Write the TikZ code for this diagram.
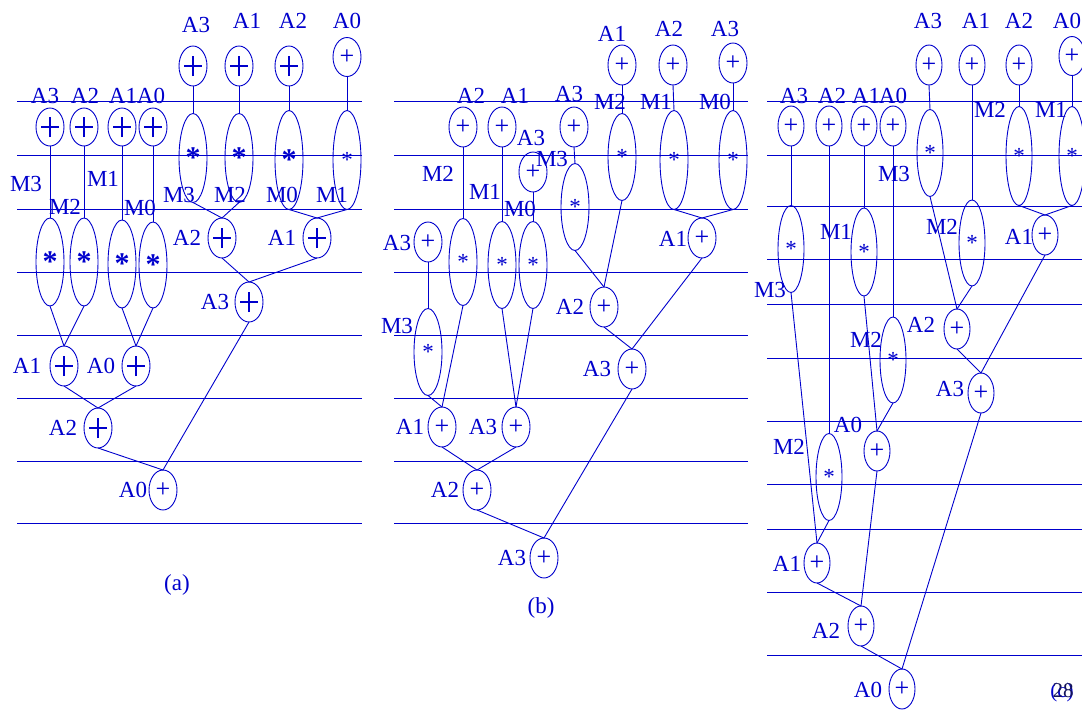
\documentclass[tikz,border=0pt]{standalone}
\usepackage{fontspec}
\setmainfont{Liberation Serif}
\usetikzlibrary{shapes.geometric}
\definecolor{bl}{RGB}{0,0,204}
\definecolor{pg}{RGB}{20,20,90}
\newcommand\fA{\fontsize{23}{23}\selectfont}
\newcommand\fP{\fontsize{26}{26}\selectfont}
\newcommand\fB{\fontsize{30}{30}\selectfont\bfseries}
\newcommand\fC{\fontsize{21}{21}\selectfont}
\begin{document}
\begin{tikzpicture}[x=1pt,y=-1pt,
  ln/.style={draw=bl, line width=0.9pt},
  opn/.style={ellipse, draw=bl, line width=0.9pt, minimum width=28pt, minimum height=40pt, inner sep=0pt, outer sep=0pt, text=bl, font=\fP},
  opc/.style={opn, minimum width=26pt},
  bpl/.style={opn, path picture={\draw[bl,line width=1.5pt] ([xshift=-9pt]path picture bounding box.center) -- ([xshift=9pt]path picture bounding box.center) ([yshift=-10pt]path picture bounding box.center) -- ([yshift=10pt]path picture bounding box.center);}},
  mul/.style={opn, font=\fA, minimum height=#1},
  mulc/.style={opc, font=\fA, minimum height=#1},
  tx/.style={text=bl, font=\fA, inner sep=0pt}]
\useasboundingbox (0,0) rectangle (1082,716);
% horizontal lines
\foreach \yy in {101,155,209,272,335,398,461,523} {\draw[ln] (17,\yy) -- (362,\yy); \draw[ln] (394,\yy) -- (748,\yy);}
\foreach \yy in {101,155,206,259,304,358,421,484,529,592,655} {\draw[ln] (767,\yy) -- (1082,\yy);}
% ================= (a)
\node[bpl] (a_t3) at (193,66) {};
\node[bpl] (a_t1) at (239,66) {};
\node[bpl] (a_t2) at (289,66) {};
\node[opn, minimum height=39pt] (a_t0) at (347,57) {+};
\node[tx] (la_t3) at (196,25) {A3};
\node[tx] (la_t1) at (247,21) {A1};
\node[tx] (la_t2) at (293,21) {A2};
\node[tx] (la_t0) at (347,21) {A0};
\node[mul=89pt] (a_m3) at (193,158) {\fB*};
\node[mul=89pt] (a_m2) at (239,158) {\fB*};
\node[mul=99pt] (a_m0) at (289,160) {\fB*};
\node[mul=99pt] (a_m1) at (347,160) {*};
\node[tx] (la_m3) at (179,195) {M3};
\node[tx] (la_m2) at (230,195) {M2};
\node[tx] (la_m0) at (282,195) {M0};
\node[tx] (la_m1) at (332,195) {M1};
\node[bpl] (a_a2) at (222,238) {};
\node[bpl] (a_a1) at (317,238) {};
\node[bpl] (a_a3) at (249,302) {};
\node[tx] (la_a2) at (187,238) {A2};
\node[tx] (la_a1) at (282,238) {A1};
\node[tx] (la_a3) at (215,302) {A3};
\node[bpl, minimum height=38pt] (a_p3) at (50,127) {};
\node[bpl, minimum height=38pt] (a_p2) at (84,127) {};
\node[bpl, minimum height=38pt] (a_p1) at (122,127) {};
\node[bpl, minimum height=38pt] (a_p0) at (153,127) {};
\node[tx] (la_p3) at (45,96) {A3};
\node[tx] (la_p2) at (85,96) {A2};
\node[tx] (la_p1) at (123,96) {A1};
\node[tx] (la_p0) at (151,96) {A0};
\node[mul=88pt] (a_q3) at (50,262) {\fB*};
\node[mul=88pt] (a_q2) at (84,262) {\fB*};
\node[mul=88pt] (a_q1) at (122,264) {\fB*};
\node[mul=86pt] (a_q0) at (153,265) {\fB*};
\node[tx] (la_q3) at (26,184) {M3};
\node[tx] (la_q1) at (103,179) {M1};
\node[tx] (la_q2) at (65,207) {M2};
\node[tx] (la_q0) at (140,208) {M0};
\node[bpl] (a_b1) at (64,366) {};
\node[bpl] (a_b0) at (136,366) {};
\node[bpl] (a_c2) at (98,428) {};
\node[opn] (a_d0) at (163,490) {+};
\node[tx] (la_b1) at (27,366) {A1};
\node[tx] (la_b0) at (101,366) {A0};
\node[tx] (la_c2) at (63,428) {A2};
\node[tx] (la_d0) at (133,490) {A0};
\node[tx] (cap_a) at (177,585) {(a)};
\draw[ln] (a_t3.south) -- (a_m3.north);
\draw[ln] (a_t1.south) -- (a_m2.north);
\draw[ln] (a_t2.south) -- (a_m0.north);
\draw[ln] (a_t0.south) -- (a_m1.north);
\draw[ln] (a_m3.south) -- (a_a2.north);
\draw[ln] (a_m2.south) -- (a_a2.north);
\draw[ln] (a_m0.south) -- (a_a1.north);
\draw[ln] (a_m1.south) -- (a_a1.north);
\draw[ln] (a_a2.south) -- (a_a3.north);
\draw[ln] (a_a1.south) -- (a_a3.north);
\draw[ln] (a_p3.south) -- (a_q3.north);
\draw[ln] (a_p2.south) -- (a_q2.north);
\draw[ln] (a_p1.south) -- (a_q1.north);
\draw[ln] (a_p0.south) -- (a_q0.north);
\draw[ln] (a_q3.south) -- (a_b1.north);
\draw[ln] (a_q2.south) -- (a_b1.north);
\draw[ln] (a_q1.south) -- (a_b0.north);
\draw[ln] (a_q0.south) -- (a_b0.north);
\draw[ln] (a_b1.south) -- (a_c2.north);
\draw[ln] (a_b0.south) -- (a_c2.north);
\draw[ln] (a_c2.south) -- (a_d0.north);
\draw[ln] (a_a3.south) -- (a_d0.north);
% ================= (b)
\node[opn] (b_t1) at (622,65) {+};
\node[opn] (b_t2) at (673,65) {+};
\node[opn] (b_t3) at (733,63) {+};
\node[tx] (lb_t1) at (612,34) {A1};
\node[tx] (lb_t2) at (669,29) {A2};
\node[tx] (lb_t3) at (725,29) {A3};
\node[mul=87pt] (b_m2) at (622,157) {*};
\node[mul=99pt] (b_m1) at (674,160) {*};
\node[mul=99pt] (b_m0) at (733,160) {*};
\node[tx] (lb_m2) at (610,102) {M2};
\node[tx] (lb_m1) at (656,102) {M1};
\node[tx] (lb_m0) at (715,102) {M0};
\node[opn] (b_a1) at (702,238) {+};
\node[tx] (lb_a1) at (673,239) {A1};
\node[opn] (b_p2) at (463,127) {+};
\node[opn] (b_p1) at (502,127) {+};
\node[opn] (b_p3) at (574,127) {+};
\node[tx] (lb_p2) at (471,96) {A2};
\node[tx] (lb_p1) at (515,96) {A1};
\node[tx] (lb_p3) at (569,94) {A3};
\node[opn] (b_x3) at (533,172) {+};
\node[tx] (lb_x3) at (531,138) {A3};
\node[mul=87pt] (b_m3) at (575,207) {*};
\node[tx] (lb_m3) at (552,159) {M3};
\node[mul=87pt] (b_q2) at (463,262) {*};
\node[mul=87pt] (b_q1) at (502,265) {*};
\node[mul=87pt] (b_q0) at (533,265) {*};
\node[tx] (lb_q2) at (438,174) {M2};
\node[tx] (lb_q1) at (485,192) {M1};
\node[tx] (lb_q0) at (520,209) {M0};
\node[opn] (b_l3) at (428,242) {+};
\node[tx] (lb_l3) at (397,243) {A3};
\node[mul=87pt] (b_lm3) at (428,352) {*};
\node[tx] (lb_lm3) at (397,326) {M3};
\node[opn] (b_b1) at (442,427) {+};
\node[opn] (b_b3) at (516,427) {+};
\node[tx] (lb_b1) at (410,427) {A1};
\node[tx] (lb_b3) at (483,427) {A3};
\node[opn] (b_c2) at (477,490) {+};
\node[tx] (lb_c2) at (445,490) {A2};
\node[opn] (b_d3) at (544,558) {+};
\node[tx] (lb_d3) at (512,558) {A3};
\node[opn] (b_a2) at (604,307) {+};
\node[tx] (lb_a2) at (570,307) {A2};
\node[opn] (b_e3) at (632,369) {+};
\node[tx] (lb_e3) at (597,369) {A3};
\node[tx] (cap_b) at (541,608) {(b)};
\draw[ln] (b_t1.south) -- (b_m2.north);
\draw[ln] (b_t2.south) -- (b_m1.north);
\draw[ln] (b_t3.south) -- (b_m0.north);
\draw[ln] (b_m1.south) -- (b_a1.north);
\draw[ln] (b_m0.south) -- (b_a1.north);
\draw[ln] (b_p2.south) -- (b_q2.north);
\draw[ln] (b_p1.south) -- (b_q1.north);
\draw[ln] (b_x3.south) -- (b_q0.north);
\draw[ln] (b_p3.south) -- (b_m3.north);
\draw[ln] (b_l3.south) -- (b_lm3.north);
\draw[ln] (b_lm3.south) -- (b_b1.north);
\draw[ln] (b_q2.south) -- (b_b1.north);
\draw[ln] (b_q1.south) -- (b_b3.north);
\draw[ln] (b_q0.south) -- (b_b3.north);
\draw[ln] (b_b1.south) -- (b_c2.north);
\draw[ln] (b_b3.south) -- (b_c2.north);
\draw[ln] (b_c2.south) -- (b_d3.north);
\draw[ln] (b_m3.south) -- (b_a2.north);
\draw[ln] (b_m2.south) -- (b_a2.north);
\draw[ln] (b_a2.south) -- (b_e3.north);
\draw[ln] (b_a1.south) -- (b_e3.north);
\draw[ln] (b_e3.south) -- (b_d3.north);
% ================= (c)
\node[opc] (c_t3) at (929,65) {+};
\node[opc] (c_t1) at (972,65) {+};
\node[opc] (c_t2) at (1019,65) {+};
\node[opc, minimum height=39pt] (c_t0) at (1072,56) {+};
\node[tx] (lc_t3) at (928,21) {A3};
\node[tx] (lc_t1) at (976,21) {A1};
\node[tx] (lc_t2) at (1019,21) {A2};
\node[tx] (lc_t0) at (1067,21) {A0};
\node[mulc=87pt] (c_m3) at (930,153) {*};
\node[mulc=99pt] (c_mA) at (1019,156) {*};
\node[mulc=99pt] (c_mB) at (1072,156) {*};
\node[tx] (lc_m3) at (894,174) {M3};
\node[tx] (lc_mA) at (990,110) {M2};
\node[tx] (lc_mB) at (1051,110) {M1};
\node[mulc=86pt] (c_mC) at (972,243) {*};
\node[tx] (lc_mC) at (942,227) {M2};
\node[opc] (c_a1) at (1045,235) {+};
\node[tx] (lc_a1) at (1019,237) {A1};
\node[opc] (c_a2) at (957,329) {+};
\node[tx] (lc_a2) at (921,325) {A2};
\node[opc] (c_a3) at (981,393) {+};
\node[tx] (lc_a3) at (950,389) {A3};
\node[opc] (c_p3) at (791,126) {+};
\node[opc] (c_p2) at (829,126) {+};
\node[opc] (c_p1) at (864,126) {+};
\node[opc] (c_p0) at (893,126) {+};
\node[tx] (lc_p3) at (794,96) {A3};
\node[tx] (lc_p2) at (832,96) {A2};
\node[tx] (lc_p1) at (866,96) {A1};
\node[tx] (lc_p0) at (893,96) {A0};
\node[mulc=87pt] (c_q3) at (791,249) {*};
\node[tx] (lc_q3) at (770,290) {M3};
\node[mulc=88pt] (c_q1) at (864,252) {*};
\node[tx] (lc_q1) at (836,232) {M1};
\node[mulc=86pt] (c_q0) at (893,360) {*};
\node[tx] (lc_q0) at (866,340) {M2};
\node[mulc=87pt] (c_q2) at (829,477) {*};
\node[tx] (lc_q2) at (789,447) {M2};
\node[opc] (c_b0) at (877,451) {+};
\node[tx] (lc_b0) at (848,425) {A0};
\node[opc] (c_b1) at (817,563) {+};
\node[tx] (lc_b1) at (787,564) {A1};
\node[opc] (c_c2) at (861,626) {+};
\node[tx] (lc_c2) at (826,631) {A2};
\node[opc] (c_d0) at (902,689) {+};
\node[tx] (lc_d0) at (868,690) {A0};
\node[tx, font=\fC] (cap_c) at (1062,692) {(c)};
\node[text=pg, font=\fC, inner sep=0pt] (pgno) at (1063,691) {28};
\draw[ln] (c_t3.south) -- (c_m3.north);
\draw[ln] (c_t2.south) -- (c_mA.north);
\draw[ln] (c_t0.south) -- (c_mB.north);
\draw[ln] (c_t1.south) -- (c_mC.north);
\draw[ln] (c_mA.south) -- (c_a1.north);
\draw[ln] (c_mB.south) -- (c_a1.north);
\draw[ln] (c_m3.south) -- (c_a2.north);
\draw[ln] (c_mC.south) -- (c_a2.north);
\draw[ln] (c_a2.south) -- (c_a3.north);
\draw[ln] (c_a1.south) -- (c_a3.north);
\draw[ln] (c_p3.south) -- (c_q3.north);
\draw[ln] (c_p1.south) -- (c_q1.north);
\draw[ln] (c_p0.south) -- (c_q0.north);
\draw[ln] (c_p2.south) -- (c_q2.north);
\draw[ln] (c_q1.south) -- (c_b0.north);
\draw[ln] (c_q0.south) -- (c_b0.north);
\draw[ln] (c_q3.south) -- (c_b1.north);
\draw[ln] (c_q2.south) -- (c_b1.north);
\draw[ln] (c_b1.south) -- (c_c2.north);
\draw[ln] (c_b0.south) -- (c_c2.north);
\draw[ln] (c_c2.south) -- (c_d0.north);
\draw[ln] (c_a3.south) -- (c_d0.north);
\end{tikzpicture}
\end{document}
